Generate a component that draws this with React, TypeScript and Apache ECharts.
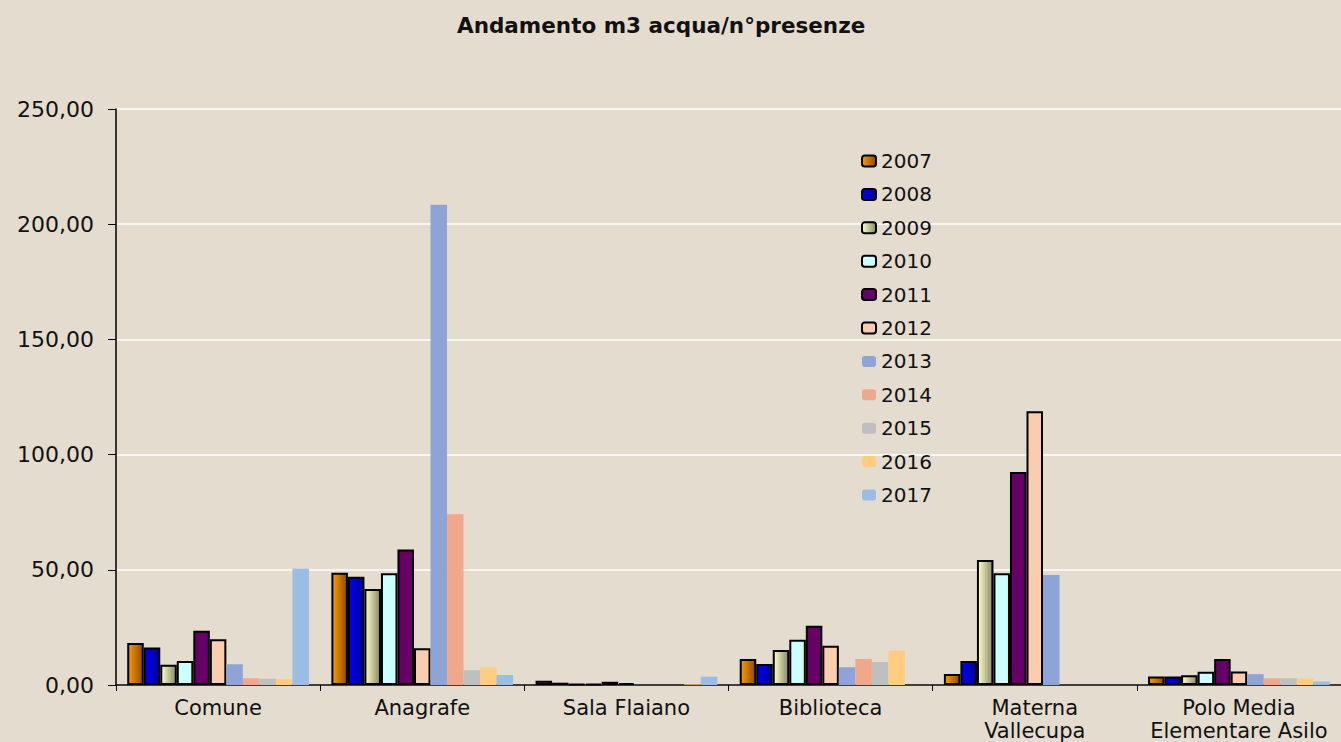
import React, { useEffect, useRef } from "react";
import * as echarts from "echarts";

const categories = ["Comune", "Anagrafe", "Sala Flaiano", "Biblioteca", "Materna\nVallecupa", "Polo Media\nElementare Asilo"];
const years = ["2007", "2008", "2009", "2010", "2011", "2012", "2013", "2014", "2015", "2016", "2017"];

const v2007 = [18.2, 48.7, 1.8, 11.3, 4.8, 3.7];
const v2008 = [16.3, 47.0, 1.0, 9.1, 10.4, 3.7];
const v2009 = [8.8, 41.7, 0.5, 15.2, 54.2, 4.2];
const v2010 = [10.4, 48.5, 0.5, 19.6, 48.5, 5.8];
const v2011 = [23.5, 58.8, 1.4, 25.7, 92.4, 11.3];
const v2012 = [19.9, 16.0, 0.8, 17.0, 118.8, 5.9];
const v2013 = [9.0, 208.4, 0, 7.7, 47.7, 4.7];
const v2014 = [2.9, 74.1, 0, 11.3, 0, 2.9];
const v2015 = [2.7, 6.4, 0, 10.0, 0, 2.9];
const v2016 = [2.5, 7.7, 0.3, 14.9, 0, 2.8];
const v2017 = [50.5, 4.3, 3.6, 0, 0, 1.5];

const values = [v2007, v2008, v2009, v2010, v2011, v2012, v2013, v2014, v2015, v2016, v2017];

const grad = (a: string, b: string) =>
  new echarts.graphic.LinearGradient(0, 0, 1, 0, [
    { offset: 0, color: a },
    { offset: 1, color: b },
  ]);

const fills: any[] = [
  grad("#FF9A00", "#8A4E00"),
  grad("#0000FF", "#000090"),
  grad("#FFFFCC", "#8A8A66"),
  "#CCFFFF",
  "#660066",
  "#F9CDAE",
  "#8FA4D6",
  "#F0A88A",
  "#BFBFBF",
  "#FFCC80",
  "#9BBDE3",
];

const FONT = "DejaVu Sans";

export default function App() {
  const ref = useRef<HTMLDivElement>(null);
  useEffect(() => {
    const chart = echarts.init(ref.current!, null, { renderer: "svg" });
    const series = years.map((y, i) => ({
      name: y,
      type: "bar",
      data: values[i],
      barGap: "0%",
      barCategoryGap: "11%",
      itemStyle: i < 6
        ? { color: fills[i], borderColor: "#000", borderWidth: 2 }
        : { color: fills[i], borderWidth: 0 },
    }));
    chart.setOption({
      animation: false,
      backgroundColor: "#E4DCCF",
      textStyle: { fontFamily: FONT },
      title: {
        text: "Andamento m3 acqua/n°presenze",
        left: 452,
        top: 9,
        textStyle: { fontFamily: FONT, fontSize: 21.5, fontWeight: "bold", color: "#111" },
      },
      legend: {
        orient: "vertical",
        left: 856,
        top: 146,
        itemWidth: 14,
        itemHeight: 11,
        itemGap: 13.4,
        data: years,
        textStyle: { fontFamily: FONT, fontSize: 20, lineHeight: 18, color: "#111" },
      },
      grid: { left: 116, top: 109, width: 1229, height: 579, containLabel: false },
      xAxis: {
        type: "category",
        data: categories,
        axisLine: { show: true, lineStyle: { color: "#000", width: 1.5 } },
        axisTick: { show: true, length: 6, lineStyle: { color: "#000" } },
        axisLabel: { fontFamily: FONT, fontSize: 21, color: "#111", margin: 11, lineHeight: 23, interval: 0 },
      },
      yAxis: {
        type: "value",
        min: 0,
        max: 250,
        interval: 50,
        axisLine: { show: true, lineStyle: { color: "#000", width: 1.5 } },
        axisTick: { show: true, length: 8, lineStyle: { color: "#000" } },
        axisLabel: {
          fontFamily: FONT,
          fontSize: 22,
          color: "#111",
          margin: 22,
          formatter: (v: number) => v.toFixed(2).replace(".", ","),
        },
        splitLine: { show: true, lineStyle: { color: "#FFFFFF", width: 1.5 } },
      },
      series,
    });
    return () => chart.dispose();
  }, []);
  return <div ref={ref} style={{ position: "fixed", left: 0, top: 0, width: 1341, height: 742 }} />;
}
